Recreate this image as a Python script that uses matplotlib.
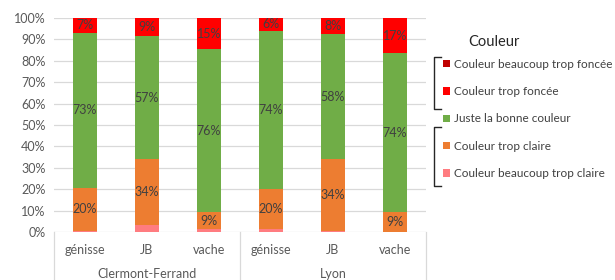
import numpy as np
import matplotlib.pyplot as plt
import matplotlib.transforms as mtransforms
from matplotlib.lines import Line2D

plt.rcParams['font.family'] = ['Lato', 'DejaVu Sans']

categories = ['génisse', 'JB', 'vache', 'génisse', 'JB', 'vache']
groups = ['Clermont-Ferrand', 'Lyon']

# values in % (bottom to top)
beaucoup_claire = [0.7, 3.3, 1.2, 1.4, 0.5, 0.0]
trop_claire = [20.0, 30.7, 8.0, 18.6, 33.5, 9.2]
bonne = [72.4, 57.7, 76.2, 74.0, 58.5, 74.3]
trop_foncee = [6.9, 8.3, 14.6, 6.0, 7.5, 16.5]
beaucoup_foncee = [0, 0, 0, 0, 0, 0]

# data labels as shown on the chart
lab_claire = ['20%', '34%', '9%', '20%', '34%', '9%']
lab_bonne = ['73%', '57%', '76%', '74%', '58%', '74%']
lab_foncee = ['7%', '9%', '15%', '6%', '8%', '17%']

series = [
    ('Couleur beaucoup trop claire', beaucoup_claire, '#FF7C80', None),
    ('Couleur trop claire', trop_claire, '#ED7D31', lab_claire),
    ('Juste la bonne couleur', bonne, '#70AD47', lab_bonne),
    ('Couleur trop foncée', trop_foncee, '#FF0000', lab_foncee),
    ('Couleur beaucoup trop foncée', beaucoup_foncee, '#C00000', None),
]

W, H = 615, 280
fig = plt.figure(figsize=(W / 100, H / 100), dpi=100)
ax = fig.add_axes([54 / W, 48 / H, 372 / W, 214 / H])

x = np.arange(len(categories))
bottom = np.zeros(len(categories))
handles = {}
for name, vals, color, labs in series:
    vals = np.array(vals, dtype=float)
    bars = ax.bar(x, vals, 0.4, bottom=bottom, color=color, label=name, zorder=2)
    handles[name] = bars
    if labs is not None:
        for xi, b, v, t in zip(x, bottom, vals, labs):
            ax.text(xi, b + v / 2, t, ha='center', va='center',
                    fontsize=9, color='#404040', zorder=3)
    bottom += vals

ax.set_xlim(-0.5, len(categories) - 0.5)
ax.set_ylim(0, 100)
ax.set_yticks(np.arange(0, 101, 10))
ax.set_yticklabels([f'{v}%' for v in range(0, 101, 10)])
ax.yaxis.grid(True, color='#d9d9d9', lw=0.9, zorder=0)
ax.set_axisbelow(True)
for s in ax.spines.values():
    s.set_visible(False)
ax.tick_params(axis='y', length=0, labelsize=9, labelcolor='#595959', pad=6)
ax.set_xticks(x)
ax.set_xticklabels(categories)
ax.tick_params(axis='x', length=0, labelsize=9, labelcolor='#595959', pad=9)

# multi-level category axis
trans = mtransforms.blended_transform_factory(ax.transData, ax.transAxes)
for xs in [-0.5, 2.5, 5.5]:
    ax.plot([xs, xs], [0, -0.23], transform=trans, color='#d9d9d9',
            lw=0.9, clip_on=False)
for i, g in enumerate(groups):
    ax.text(1 + 3 * i, -0.195, g, transform=trans, ha='center', va='center',
            fontsize=9, color='#595959')

# legend
order = ['Couleur beaucoup trop foncée', 'Couleur trop foncée',
         'Juste la bonne couleur', 'Couleur trop claire',
         'Couleur beaucoup trop claire']
leg = fig.legend([handles[n] for n in order], order, loc='upper left',
                 bbox_to_anchor=(437 / W, 1 - 53 / H), frameon=False,
                 fontsize=8.5, handlelength=0.6, handleheight=0.6,
                 handletextpad=0.3, labelspacing=1.38, borderpad=0,
                 labelcolor='#404040')
fig.text(494 / W, 1 - 42 / H, 'Couleur', ha='center', va='center',
         fontsize=10.5, color='#262626')

def px(xp, yp):
    return xp / W, 1 - yp / H

for y0, y1 in [(57, 109), (127, 186)]:
    xs, ys = zip(px(441, y0), px(434, y0), px(434, y1), px(441, y1))
    fig.add_artist(Line2D(xs, ys, transform=fig.transFigure, color='#262626', lw=1))

fig.savefig('out.png', dpi=100)
